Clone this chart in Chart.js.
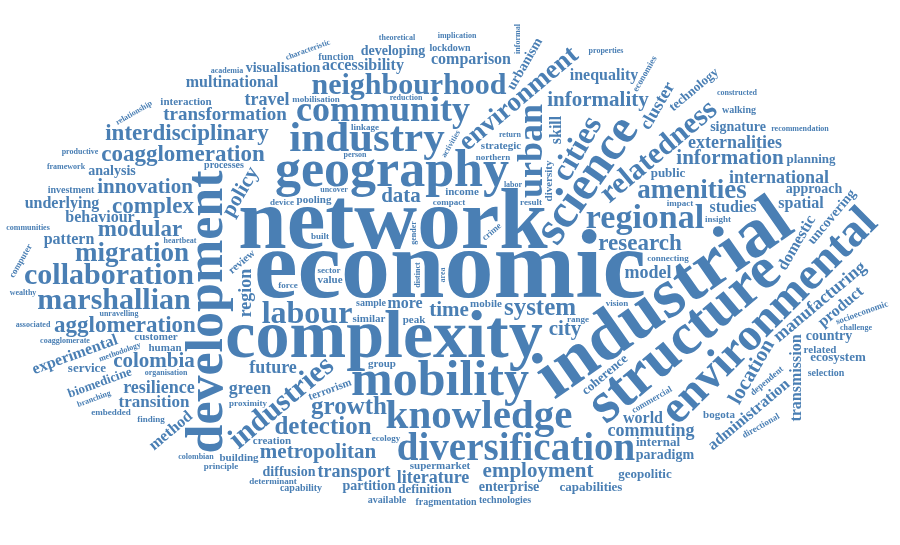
<!DOCTYPE html>
<html>
<head>
<meta charset="utf-8">
<script src="https://cdn.jsdelivr.net/npm/chart.js@4"></script>
<style>
  html, body { margin: 0; padding: 0; background: #fff; }
  #wrap { width: 900px; height: 545px; }
</style>
</head>
<body>
<div id="wrap"><canvas id="cloud"></canvas></div>
<script>
// word list, font size (px) and rotation (degrees)
const words = ['economic','network','industrial','complexity','structure','development','geography','mobility','science','environmental',
  'industry','knowledge','community','diversification','regional','urban','cities','labour','industries','relatedness',
  'neighbourhood','collaboration','marshallian','migration','amenities','environment','detection','system','growth','agglomeration',
  'research','modular','complex','coagglomeration','interdisciplinary','informality','information','metropolitan','innovation','colombia',
  'employment','time','data','city','location','policy','transformation','commuting','resilience','externalities',
  'international','literature','future','model','green','travel','transport','manufacturing','transition','accessibility',
  'comparison','behaviour','transmission','administration','experimental','inequality','region','cluster','skill','more',
  'studies','world','pattern','domestic','product','underlying','multinational','spatial','method','analysis',
  'visualisation','developing','signature','enterprise','approach','paradigm','partition','diffusion','country','urbanism',
  'uncovering','definition','ecosystem','geopolitic','technology','coherence','supermarket','biomedicine','internal','capabilities',
  'diversity','planning','strategic','income','building','review','public','similar','service','interaction',
  'mobile','peak','group','value','pooling','customer','bogota','human','creation','related',
  'terrorism','investment','function','technologies','fragmentation','lockdown','walking','selection','processes','available',
  'capability','sample','connecting','crime','compact','impact','insight','finding','built','result',
  'sector','force','range','vision','device','principle','ecology','linkage','northern','commercial',
  'socioeconomic','directional','dependent','economies','computer','proximity','mobilisation','determinant','embedded','organisation',
  'unravelling','coagglomerate','heartbeat','methodology','colombian','communities','framework','branching','associated','productive',
  'relationship','characteristic','challenge','reduction','uncover','activities','distinct','informal','labor','gender',
  'return','area','person','theoretical','academia','implication','wealthy','properties','constructed','recommendation'];
const sizes = [86,76,62,60,52,46,46,44,42,40,
  38,36,32,34,30,32,28,28,26,26,
  26,26,26,24,24,24,22,22,22,20,
  20,20,20,20,20,18,18,18,18,18,
  18,18,18,18,18,18,17,16,16,16,
  16,16,16,16,16,16,16,16,15,14,
  14,14,14,14,14,14,16,16,14,14,
  14,14,14,14,14,14,14,14,14,12,
  12,12,12,12,12,12,12,12,12,12,
  12,11,11,11,11,11,10,11,11,11,
  10,11,10,10,10,10,11,10,11,10,
  10,10,10,10,10,10,10,10,10,10,
  10,9,9,9,9,9,9,9,9,9,
  9,9,8,8,8,8,8,8,8,8,
  8,8,8,8,8,8,8,8,8,8,
  8,8,8,8,8,8,8,8,8,7,
  7,7,7,7,7,7,7,7,7,7,
  7,7,7,7,7,7,7,7,7,7,
  7,7,7,7,7,7,7,7,7,7];
const angles = [0,0,-35,0,-40,-90,0,0,-55,-45,
  0,0,0,0,0,-90,-60,0,-40,-40,
  0,0,0,0,0,-40,0,0,0,0,
  0,0,0,0,0,0,0,0,0,0,
  0,0,0,0,-60,-60,0,0,0,0,
  0,0,0,0,0,0,0,-40,0,0,
  0,0,-90,-40,-20,0,-90,-60,-90,0,
  0,0,0,-60,-40,0,0,0,-40,0,
  0,0,0,0,0,0,0,0,0,-60,
  -50,0,0,0,-40,-40,0,-20,0,0,
  -90,0,0,0,0,-40,0,0,0,0,
  0,0,0,0,0,0,0,0,0,0,
  -20,0,0,0,0,0,0,0,0,0,
  0,0,0,-40,0,0,0,0,0,0,
  0,0,0,0,0,0,0,0,0,-30,
  -20,-30,-40,-60,-60,0,0,0,0,0,
  0,0,0,-20,0,0,0,-20,0,0,
  -30,-20,0,0,0,-60,-90,-90,0,-90,
  0,-90,0,0,0,0,0,0,0,0];

const W = 900, H = 545;
const SCALE = 1.14;
const COLOR = '#4a7fb4';
const FONT = '"Liberation Serif", "DejaVu Serif", serif';

function fontFor(i) { return 'bold ' + Math.round(sizes[i] * SCALE) + 'px ' + FONT; }

function layout(chart) {
  const xs = chart.scales.x, ys = chart.scales.y;
  const occ = new Uint8Array(W * H);
  const placed = [];
  const tmp = document.createElement('canvas');
  const tc = tmp.getContext('2d', { willReadFrequently: true });
  for (let i = 0; i < words.length; i++) {
    const size = sizes[i] * SCALE, rad = angles[i] * Math.PI / 180;
    tc.font = fontFor(i);
    const tw = tc.measureText(words[i]).width, th = size * 0.8;
    const c = Math.abs(Math.cos(rad)), s = Math.abs(Math.sin(rad));
    const bw = Math.ceil(tw * c + th * s) + 4, bh = Math.ceil(tw * s + th * c) + 4;
    tmp.width = bw; tmp.height = bh;
    tc.font = fontFor(i);
    tc.translate(bw / 2, bh / 2); tc.rotate(rad);
    tc.textAlign = 'center'; tc.textBaseline = 'middle';
    tc.lineWidth = 2; tc.strokeStyle = '#000';
    tc.fillText(words[i], 0, 0); tc.strokeText(words[i], 0, 0);
    const img = tc.getImageData(0, 0, bw, bh).data;
    const pts = [];
    for (let y = 0; y < bh; y++) for (let x = 0; x < bw; x++)
      if (img[(y * bw + x) * 4 + 3] > 40) pts.push(x - (bw >> 1), y - (bh >> 1));
    // elliptical spiral in value space, mapped through the chart scales
    for (let t = 0; t < 500; t += 0.07) {
      const vx = 450 + 3.5 * t * Math.cos(t), vy = 272 + 1.9 * t * Math.sin(t);
      const px = Math.round(xs.getPixelForValue(vx)), py = Math.round(ys.getPixelForValue(vy));
      if (px - bw / 2 < 1 || px + bw / 2 > W - 1 || py - bh / 2 < 1 || py + bh / 2 > H - 1) continue;
      let ok = true;
      for (let k = 0; k < pts.length; k += 2) {
        if (occ[(py + pts[k + 1]) * W + px + pts[k]]) { ok = false; break; }
      }
      if (!ok) continue;
      for (let k = 0; k < pts.length; k += 2) occ[(py + pts[k + 1]) * W + px + pts[k]] = 1;
      placed.push({ i, px, py, rad });
      break;
    }
  }
  return placed;
}

const cloudPlugin = {
  id: 'cloud',
  afterDraw(chart) {
    if (!chart.$placed) chart.$placed = layout(chart);
    const ctx = chart.ctx;
    ctx.save();
    ctx.fillStyle = COLOR;
    ctx.textAlign = 'center'; ctx.textBaseline = 'middle';
    chart.$placed.forEach(p => {
      ctx.save();
      ctx.font = fontFor(p.i);
      ctx.translate(p.px, p.py); ctx.rotate(p.rad);
      ctx.fillText(words[p.i], 0, 0);
      ctx.restore();
    });
    ctx.restore();
  }
};

new Chart(document.getElementById('cloud'), {
  type: 'scatter',
  data: { datasets: [{ data: [] }] },
  options: {
    responsive: true,
    maintainAspectRatio: false,
    animation: false,
    layout: { padding: 0 },
    scales: {
      x: { type: 'linear', min: 0, max: W, display: false },
      y: { type: 'linear', min: 0, max: H, reverse: true, display: false }
    },
    plugins: { legend: { display: false }, tooltip: { enabled: false } }
  },
  plugins: [cloudPlugin]
});
</script>
</body>
</html>
